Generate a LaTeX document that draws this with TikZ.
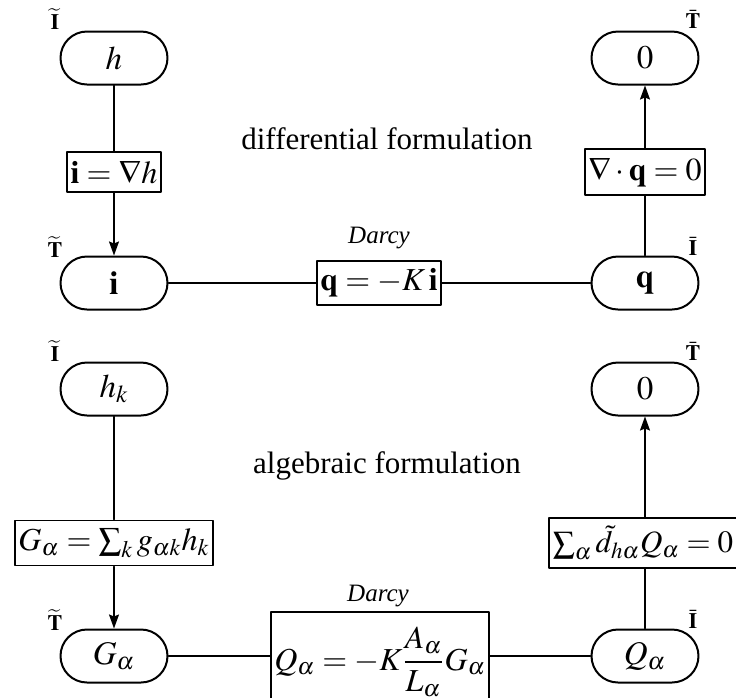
\documentclass[tikz,border=0pt]{standalone}
\usepackage{amsmath}
\usepackage{mathptmx}
\usepackage[no-math]{fontspec}
\setmainfont{Liberation Serif}
\usetikzlibrary{arrows.meta,shapes.misc}
\tikzset{
  every picture/.style={line join=round, line cap=round, >={Stealth[length=7pt,width=5pt,inset=1pt]}},
  state/.style={draw, rounded rectangle, line width=1pt, minimum width=53.5pt, minimum height=26.5pt, inner sep=0pt, font=\fontsize{16.5}{20}\selectfont},
  law/.style={draw, rectangle, line width=0.9pt, inner xsep=1.8pt, inner ysep=4pt, font=\fontsize{16}{20}\selectfont},
  tag/.style={font=\fontsize{11}{12}\selectfont, inner sep=0pt},
  lawname/.style={font=\fontsize{12.5}{14}\selectfont\itshape, inner sep=0pt},
}

\begin{document}
\begin{tikzpicture}[x=0.5pt,y=-0.5pt,font=\fontsize{15.5}{18}\selectfont,line width=0.8pt]
\useasboundingbox (0,0) rectangle (736,698);
\node[state] (h) at (114,58) {$h$};
\node[state] (z) at (645,58) {$0$};
\node[law] (grad) at (114,172) {$\mathbf{i}=\nabla h$};
\node[law] (div) at (645,172) {$\nabla\cdot\mathbf{q}=0$};
\node[state] (i) at (114,283) {$\mathbf{i}$};
\node[state] (q) at (645,283) {$\mathbf{q}$};
\node[law] (darcy) at (379,283) {$\mathbf{q}=-K\,\mathbf{i}$};
\node[lawname] (dname) at (379,238) {Darcy};
\node (diff) at (387,139) {differential formulation};
\node[tag] (ti1) at (55,19) {$\widetilde{\mathbf{I}}$};
\node[tag] (tt1) at (693,19) {$\bar{\mathbf{T}}$};
\node[tag] (tt2) at (55,247) {$\widetilde{\mathbf{T}}$};
\node[tag] (ti2) at (693,246) {$\bar{\mathbf{I}}$};
\draw (h) -- (grad);
\draw[->] (grad) -- (i);
\draw (q) -- (div);
\draw[->] (div) -- (z);
\draw (i) -- (darcy) -- (q);
\node[state] (hk) at (114,389) {$h_k$};
\node[state] (zb) at (645,389) {$0$};
\node[law] (gsum) at (114,543) {$G_\alpha=\sum_k g_{\alpha k}h_k$};
\node[law, font=\fontsize{15.5}{19}\selectfont] (dsum) at (643,543) {$\sum_\alpha \tilde d_{h\alpha}Q_\alpha=0$};
\node[state] (G) at (114,656) {$G_\alpha$};
\node[state] (Q) at (645,656) {$Q_\alpha$};
\node[law, minimum height=50pt] (darcyb) at (380,662) {$Q_\alpha=-K\dfrac{A_\alpha}{L_\alpha}G_\alpha$};
\node[lawname] (dnameb) at (378,596) {Darcy};
\node (alg) at (387,466) {algebraic formulation};
\node[tag] (ti3) at (55,351) {$\widetilde{\mathbf{I}}$};
\node[tag] (tt3) at (693,351) {$\bar{\mathbf{T}}$};
\node[tag] (tt4) at (55,620) {$\widetilde{\mathbf{T}}$};
\node[tag] (ti4) at (693,619) {$\bar{\mathbf{I}}$};
\draw (hk) -- (gsum);
\draw[->] (gsum) -- (G);
\draw (Q) -- (Q |- dsum.south);
\draw[->] (zb |- dsum.north) -- (zb);
\draw (G) -- (darcyb.west |- G) (darcyb.east |- Q) -- (Q);
\end{tikzpicture}
\end{document}
